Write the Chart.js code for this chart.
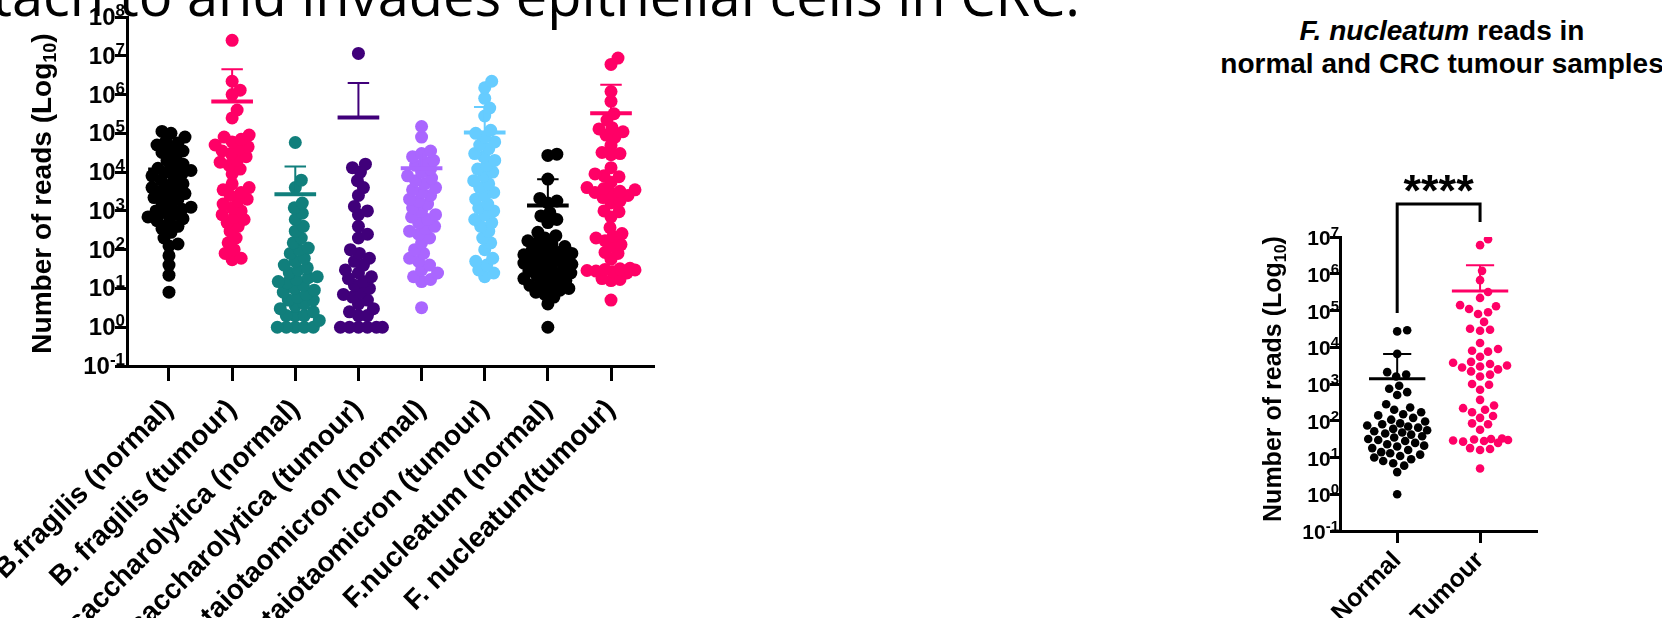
<!DOCTYPE html>
<html>
<head>
<meta charset="utf-8">
<script src="https://cdn.jsdelivr.net/npm/chart.js@4.4.1/dist/chart.umd.min.js"></script>
<style>
  html, body { margin: 0; padding: 0; background: #fff; }
  body { position: relative; width: 1662px; height: 618px; overflow: hidden; }
  #slideTitle { position: absolute; right: 582px; top: -34px; font: 56px/56px "Open Sans", sans-serif; white-space: nowrap; color: #000; }
  #fnTitle { position: absolute; left: 1142px; width: 600px; top: 14px; text-align: center; color: #000;
             font: bold 28px/33px "Liberation Sans", Arial, sans-serif; }
  #leftChart { position: absolute; left: 0; top: 0; }
  #rightChart { position: absolute; left: 1180px; top: 0; }
</style>
</head>
<body>
<div id="slideTitle">attach to and invades epithelial cells in CRC.</div>
<div id="fnTitle"><i>F. nucleatum</i> reads in<br>normal and CRC tumour samples</div>
<canvas id="leftChart" width="700" height="618"></canvas>
<canvas id="rightChart" width="482" height="618"></canvas>
<script>
//-----------
//- DATA    -
//-----------
var groupLabels = ['B.fragilis (normal)', 'B. fragilis (tumour)', 'P. asaccharolytica (normal)', 'P. asaccharolytica (tumour)',
  'B.thetaiotaomicron (normal)', 'B. thetaiotaomicron (tumour)', 'F.nucleatum (normal)', 'F. nucleatum(tumour)'];
var groupColors = ['#000000', '#FF0066', '#117F7C', '#40007A', '#AA66FF', '#66CCFF', '#000000', '#FF0066'];

var bfNormal = [8, 22, 40, 70, 125, 140, 200, 280, 350, 400, 500, 560, 630, 700, 800, 900, 1000, 1100, 1250, 1400,
  1600, 2000, 2200, 2500, 2800, 3200, 3500, 4000, 4500, 5000, 6300, 7000, 8000, 9000, 10000, 11000, 12500, 14000,
  16000, 20000, 25000, 32000, 35000, 40000, 50000, 56000, 63000, 80000, 100000, 112000];
var bfTumour = [55, 60, 80, 100, 150, 200, 300, 400, 500, 600, 700, 800, 1000, 1200, 1500, 1800, 2000, 2500, 3000,
  3500, 4000, 5000, 9000, 12000, 15000, 18000, 20000, 25000, 30000, 35000, 40000, 45000, 50000, 60000, 70000, 80000,
  90000, 250000, 400000, 1000000, 1300000, 2200000, 25000000];
var paNormal = [1, 1, 1, 1, 1, 1.5, 2, 2, 2, 2.5, 3, 3.5, 4, 5, 5, 6, 7, 8, 9, 10, 12, 14, 15, 17, 19, 20, 25, 30, 34,
  40, 50, 60, 80, 100, 110, 150, 200, 300, 400, 600, 870, 1200, 1600, 4000, 6200, 58000];
var paTumour = [1, 1, 1, 1, 1, 1, 2, 2, 2.5, 3, 4, 5, 6, 7, 8, 10, 12, 15, 18, 20, 25, 30, 40, 50, 60, 80, 100, 200,
  250, 400, 800, 1000, 1300, 2500, 4000, 6000, 10000, 13000, 16000, 11500000];
var btNormal = [3.2, 15, 17, 20, 25, 30, 40, 50, 60, 80, 100, 150, 200, 250, 300, 350, 400, 500, 600, 700, 800, 1000,
  1200, 1500, 1800, 2000, 2500, 3000, 3500, 4000, 5000, 6000, 7000, 8000, 10000, 12000, 15000, 18000, 20000, 25000,
  30000, 35000, 80000, 150000];
var btTumour = [20, 25, 30, 40, 50, 60, 100, 150, 200, 300, 400, 500, 600, 800, 1000, 1200, 1500, 2000, 2500, 3000,
  4000, 5000, 6000, 8000, 10000, 12000, 15000, 20000, 25000, 30000, 40000, 50000, 60000, 80000, 100000, 120000,
  280000, 450000, 800000, 1500000, 2200000];
var fnNormal = [1, 4, 6, 7, 8, 9, 10, 11, 12, 13, 14, 16, 18, 20, 21, 23, 25, 28, 30, 32, 35, 38, 42, 45, 48, 52, 55,
  60, 65, 70, 74, 80, 85, 95, 107, 120, 140, 150, 170, 200, 230, 280, 500, 600, 740, 900, 1600, 1800, 2100, 6600,
  27000, 29000];
var fnTumour = [5, 16, 17, 18, 25, 27, 28, 29, 30, 31, 32, 33, 57, 80, 85, 120, 135, 170, 200, 220, 260, 370, 700, 950,
  1000, 1600, 1800, 2200, 2500, 2800, 3000, 3200, 3500, 3800, 4000, 5500, 7600, 8000, 9000, 13000, 28000, 30000, 32000,
  49000, 80000, 90000, 110000, 130000, 140000, 220000, 320000, 670000, 1200000, 6000000, 8700000];

// mean and top of the error bar for each group, as drawn
var groupMeans = [11700, 660000, 2700, 257000, 12600, 105000, 1380, 331000];
var groupErrTop = [37000, 4500000, 14000, 2000000, 32000, 480000, 6500, 1800000];

var yTickValues = [0.1, 1, 10, 100, 1e3, 1e4, 1e5, 1e6, 1e7, 1e8];

var rightLabels = ['Normal', 'Tumour'];
var rightColors = ['#000000', '#FF0066'];
var rightGroups = [fnNormal, fnTumour];
var rightMeans = [1380, 340000];
var rightErrTop = [6600, 1700000];
var rightTickValues = [0.1, 1, 10, 100, 1e3, 1e4, 1e5, 1e6, 1e7];

//-----------
//- HELPERS -
//-----------
var FONT = '"Liberation Sans", Arial, sans-serif';

// beeswarm: x offsets (in category units) so dots stack sideways
function swarmOffsets(values, pxPerDecade, pxPerUnit, minDist, maxHalf) {
  var order = values.map(function (v, i) { return i; }).sort(function (a, b) { return values[a] - values[b]; });
  var placed = [];
  var out = [];
  order.forEach(function (i) {
    var py = Math.log10(values[i]) * pxPerDecade;
    var near = placed.filter(function (p) { return Math.abs(p.y - py) < minDist; });
    var best = null, fallback = 0, bestD = -1;
    for (var k = 0; k <= maxHalf && best === null; k++) {
      var cands = k === 0 ? [0] : [k, -k];
      for (var c = 0; c < cands.length; c++) {
        var s = cands[c];
        var d = near.reduce(function (m, p) { return Math.min(m, Math.hypot(p.x - s, p.y - py)); }, Infinity);
        if (d >= minDist) { best = s; break; }
        if (d > bestD) { bestD = d; fallback = s; }
      }
    }
    if (best === null) best = fallback;
    placed.push({ x: best, y: py });
    out[i] = best / pxPerUnit;
  });
  return out;
}

function buildDatasets(groups, colors, means, tops, opt) {
  var ds = [];
  groups.forEach(function (vals, g) {
    var off = swarmOffsets(vals, opt.pxDec, opt.pxUnit, opt.minDist, opt.maxHalf);
    ds.push({
      data: vals.map(function (v, i) { return { x: g + off[i], y: v }; }),
      backgroundColor: colors[g], pointRadius: opt.radius, pointBorderWidth: 0, pointHoverRadius: opt.radius, order: 2
    });
    ds.push({
      data: [{ x: g - opt.meanHalf, y: means[g] }, { x: g + opt.meanHalf, y: means[g] }],
      showLine: true, borderColor: colors[g], borderWidth: opt.meanWidth, pointRadius: 0, order: 1
    });
    ds.push({
      data: [{ x: g, y: means[g] }, { x: g, y: tops[g] }, { x: g, y: null },
        { x: g - opt.capHalf, y: tops[g] }, { x: g + opt.capHalf, y: tops[g] }],
      showLine: true, spanGaps: false, borderColor: colors[g], borderWidth: opt.errWidth, pointRadius: 0, order: 1
    });
  });
  return ds;
}

function axisOptions(o) {
  return {
    x: {
      type: 'linear', min: o.xMin, max: o.xMax,
      afterBuildTicks: function (s) { s.ticks = o.labels.map(function (l, i) { return { value: i }; }); },
      ticks: {
        autoSkip: false, minRotation: 45, maxRotation: 45, color: '#000', padding: o.xPad,
        font: { family: FONT, size: o.xFont, weight: 'bold' },
        callback: function (v) { return o.labels[v]; }
      },
      grid: { drawOnChartArea: false, tickLength: o.xTick, lineWidth: 3, color: '#000' },
      border: { color: '#000', width: 3 },
      afterFit: function (s) { s.height = o.xHeight; s.paddingLeft = 0; s.paddingRight = 0; }
    },
    y: {
      type: 'logarithmic', min: o.yTicks[0], max: o.yTicks[o.yTicks.length - 1],
      afterBuildTicks: function (s) { s.ticks = o.yTicks.map(function (v) { return { value: v, major: true }; }); },
      ticks: { display: false },
      grid: { drawOnChartArea: false, tickLength: o.yTick, lineWidth: 3, color: '#000' },
      border: { color: '#000', width: 3 },
      afterFit: function (s) { s.width = o.yWidth; s.paddingTop = 0; s.paddingBottom = 0; }
    }
  };
}

// "10" with raised exponent on each log tick, and the axis title with a subscript
var logAxisText = {
  id: 'logAxisText',
  afterDraw: function (chart, args, o) {
    var ctx = chart.ctx, ys = chart.scales.y, axisX = chart.chartArea.left;
    ctx.save();
    ctx.fillStyle = '#000';
    ctx.textBaseline = 'alphabetic';
    ys.ticks.forEach(function (t) {
      var py = ys.getPixelForValue(t.value);
      var exp = String(Math.round(Math.log10(t.value)));
      var right = axisX - o.labelGap;
      ctx.textAlign = 'right';
      ctx.font = 'bold ' + o.expSize + 'px ' + FONT;
      ctx.fillText(exp, right, py + o.expShift);
      var ew = ctx.measureText(exp).width;
      ctx.font = 'bold ' + o.baseSize + 'px ' + FONT;
      ctx.fillText('10', right - ew, py + o.baseShift);
    });

    var main = 'Number of reads (Log', sub = '10', end = ')';
    var cy = (chart.chartArea.top + chart.chartArea.bottom) / 2 + o.titleDy;
    ctx.translate(o.titleX, cy);
    ctx.rotate(-Math.PI / 2);
    ctx.textAlign = 'left';
    ctx.font = 'bold ' + o.titleSize + 'px ' + FONT;
    var w1 = ctx.measureText(main).width, w3 = ctx.measureText(end).width;
    ctx.font = 'bold ' + o.subSize + 'px ' + FONT;
    var w2 = ctx.measureText(sub).width;
    var x = -(w1 + w2 + w3) / 2, base = o.titleSize * 0.36;
    ctx.font = 'bold ' + o.titleSize + 'px ' + FONT;
    ctx.fillText(main, x, base);
    ctx.fillText(end, x + w1 + w2, base);
    ctx.font = 'bold ' + o.subSize + 'px ' + FONT;
    ctx.fillText(sub, x + w1, base + o.subSize * 0.3);
    ctx.restore();
  }
};

function baseOptions(padding, scales, textOpts) {
  return {
    responsive: false,
    animation: false,
    layout: { padding: padding },
    scales: scales,
    plugins: {
      legend: { display: false }, tooltip: { enabled: false }, title: { display: false },
      logAxisText: textOpts
    }
  };
}

//-----------------
//- LEFT CHART    -
//-----------------
var leftGroups = [bfNormal, bfTumour, paNormal, paTumour, btNormal, btTumour, fnNormal, fnTumour];

new Chart(document.getElementById('leftChart').getContext('2d'), {
  type: 'scatter',
  data: {
    datasets: buildDatasets(leftGroups, groupColors, groupMeans, groupErrTop, {
      pxDec: 38.8, pxUnit: 63.2, minDist: 9, maxHalf: 24, radius: 6.5,
      meanHalf: 0.33, capHalf: 0.17, meanWidth: 4, errWidth: 2
    })
  },
  options: baseOptions(
    { top: 17, right: 47, left: 0, bottom: 0 },
    axisOptions({
      labels: groupLabels, xMin: -0.665, xMax: 7.665, xFont: 28, xPad: 12, xTick: 15, xHeight: 252,
      yTicks: yTickValues, yTick: 12, yWidth: 127
    }),
    { labelGap: 2, expSize: 17, expShift: -1, baseSize: 24, baseShift: 8,
      titleX: 41, titleDy: 2, titleSize: 28, subSize: 18 }
  ),
  plugins: [logAxisText]
});

//-----------------
//- RIGHT CHART   -
//-----------------
var bracketPlugin = {
  id: 'sigBracket',
  afterDraw: function (chart) {
    var ctx = chart.ctx, xs = chart.scales.x, top = chart.chartArea.top;
    var x0 = xs.getPixelForValue(0), x1 = xs.getPixelForValue(1);
    ctx.save();
    ctx.strokeStyle = '#000';
    ctx.lineWidth = 3;
    ctx.beginPath();
    ctx.moveTo(x0, top + 76);
    ctx.lineTo(x0, top - 33);
    ctx.lineTo(x1, top - 33);
    ctx.lineTo(x1, top - 15);
    ctx.stroke();
    ctx.fillStyle = '#000';
    ctx.font = 'bold 45px ' + FONT;
    ctx.textAlign = 'center';
    ctx.fillText('****', (x0 + x1) / 2, top - 31);
    ctx.restore();
  }
};

new Chart(document.getElementById('rightChart').getContext('2d'), {
  type: 'scatter',
  data: {
    datasets: buildDatasets(rightGroups, rightColors, rightMeans, rightErrTop, {
      pxDec: 36.75, pxUnit: 83, minDist: 9.5, maxHalf: 30, radius: 4.3,
      meanHalf: 0.34, capHalf: 0.17, meanWidth: 3, errWidth: 2
    })
  },
  options: baseOptions(
    { top: 237, right: 126, left: 0, bottom: 0 },
    axisOptions({
      labels: rightLabels, xMin: -0.69, xMax: 1.675, xFont: 25, xPad: 3, xTick: 12, xHeight: 87,
      yTicks: rightTickValues, yTick: 10, yWidth: 160
    }),
    { labelGap: 1, expSize: 15, expShift: 0, baseSize: 21, baseShift: 8,
      titleX: 92, titleDy: -5, titleSize: 25, subSize: 16 }
  ),
  plugins: [logAxisText, bracketPlugin]
});
</script>
</body>
</html>
